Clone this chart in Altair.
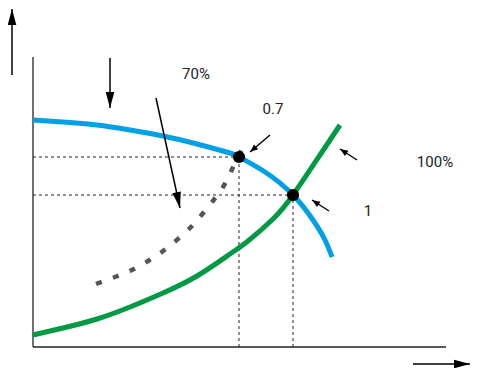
import altair as alt
import pandas as pd
import math

# ---- data (flow Q to the right, head H upward; origin at the axes corner) ----
pump_q = [0, 30, 64, 97, 130, 164, 197, 206, 232, 260, 280, 292, 299]
pump_h = [227, 225, 222, 217, 211, 203, 194, 190, 175, 152, 127, 107, 90]

sys_q = [0, 30, 64, 97, 130, 164, 197, 215, 240, 260, 287, 307]
sys_h = [12, 19, 28, 40, 54, 71, 93, 106, 128, 152, 192, 222]

sys70_q = [63, 82, 99, 115, 130, 145, 159, 171, 183, 193, 202, 211]
sys70_h = [63, 70, 77, 86, 96, 108, 121, 135, 150, 165, 184, 201]

op_q = [206, 260]
op_h = [190, 152]

label_text = ["70%", "0.7", "100%", "1"]
label_q = [163, 240, 402, 335]
label_h = [273, 238, 185, 136]

axis_q = [0, 0]
axis_h = [0, 0]
axis_q2 = [0, 413]
axis_h2 = [290, 0]

big_q = [-21, 380, 77, 123]
big_h = [272, -17, 289, 249]
big_q2 = [-21, 437, 77, 147]
big_h2 = [338, -17, 239, 139]

small_q = [237, 324, 296]
small_h = [212, 187, 136]
small_q2 = [217, 307, 279]
small_h2 = [195, 198, 147]

BLUE = "#00a0e6"
GREEN = "#009a44"
FONT = "Roboto, Liberation Sans, sans-serif"

pump = pd.DataFrame({"q": pump_q, "h": pump_h})
system = pd.DataFrame({"q": sys_q, "h": sys_h})
system70 = pd.DataFrame({"q": sys70_q, "h": sys70_h})
ops = pd.DataFrame({"q": op_q, "h": op_h})
labels = pd.DataFrame({"t": label_text, "q": label_q, "h": label_h})
axes_df = pd.DataFrame({"q": axis_q, "h": axis_h, "q2": axis_q2, "h2": axis_h2})


def arrows(q, h, q2, h2):
    df = pd.DataFrame({"q": q, "h": h, "q2": q2, "h2": h2})
    # screen angle of the arrow direction (screen y grows downward)
    df["ang"] = [
        math.degrees(math.atan2(b - a, d - c)) % 360
        for a, b, c, d in zip(df["q"], df["q2"], df["h"], df["h2"])
    ]
    return df


big = arrows(big_q, big_h, big_q2, big_h2)
small = arrows(small_q, small_h, small_q2, small_h2)

XS = alt.Scale(domain=[-25, 438], nice=False, zero=False)
YS = alt.Scale(domain=[-21, 339], nice=False, zero=False)
X = alt.X("q:Q", scale=XS, axis=None)
Y = alt.Y("h:Q", scale=YS, axis=None)
X2 = alt.X("q2:Q", scale=XS, axis=None)
Y2 = alt.Y("h2:Q", scale=YS, axis=None)

base_axes = alt.Chart(axes_df).mark_rule(color="#222222", strokeWidth=1.3).encode(
    x=X, y=Y, x2="q2", y2="h2"
)

guides_h = alt.Chart(ops).transform_calculate(z="0").mark_rule(
    color="#222222", strokeWidth=1, strokeDash=[3, 3]
).encode(x=alt.X("z:Q", scale=XS, axis=None), x2="q", y=Y)

guides_v = alt.Chart(ops).transform_calculate(z="0").mark_rule(
    color="#222222", strokeWidth=1, strokeDash=[3, 3]
).encode(x=X, y=alt.Y("z:Q", scale=YS, axis=None), y2="h")

gray = alt.Chart(system70).mark_line(
    color="#555555", strokeWidth=4.5, strokeDash=[6, 12], interpolate="natural"
).encode(x=X, y=Y)

green = alt.Chart(system).mark_line(
    color=GREEN, strokeWidth=5, interpolate="natural"
).encode(x=X, y=Y)

blue = alt.Chart(pump).mark_line(
    color=BLUE, strokeWidth=5, interpolate="natural"
).encode(x=X, y=Y)

points = alt.Chart(ops).mark_point(
    filled=True, color="black", size=150, opacity=1, strokeWidth=0
).encode(x=X, y=Y)

big_shaft = alt.Chart(big).mark_rule(color="black", strokeWidth=1.5).encode(
    x=X, y=Y, x2="q2", y2="h2"
)
big_head = alt.Chart(big).mark_point(
    shape="M0,0L0.27,1L-0.27,1Z", filled=True, color="black", size=1024,
    opacity=1, strokeWidth=0
).encode(x=X2, y=Y2, angle=alt.Angle("ang:Q", scale=None))

small_shaft = alt.Chart(small).mark_rule(color="black", strokeWidth=1.4).encode(
    x=X, y=Y, x2="q2", y2="h2"
)
small_head = alt.Chart(small).mark_point(
    shape="M0,0L0.4,1L-0.4,1Z", filled=True, color="black", size=256,
    opacity=1, strokeWidth=0
).encode(x=X2, y=Y2, angle=alt.Angle("ang:Q", scale=None))

text = alt.Chart(labels).mark_text(
    font=FONT, fontSize=15, color="#222222",
    align="center", baseline="middle"
).encode(x=X, y=Y, text="t:N")

chart = alt.layer(
    base_axes, guides_h, guides_v, gray, green, blue, points,
    big_shaft, big_head, small_shaft, small_head, text
).properties(
    width=463, height=360, padding=0, background="white",
    autosize=alt.AutoSizeParams(type="none")
).configure_view(stroke=None)

chart.save("out.html", embed_options={"renderer": "svg", "actions": False})
